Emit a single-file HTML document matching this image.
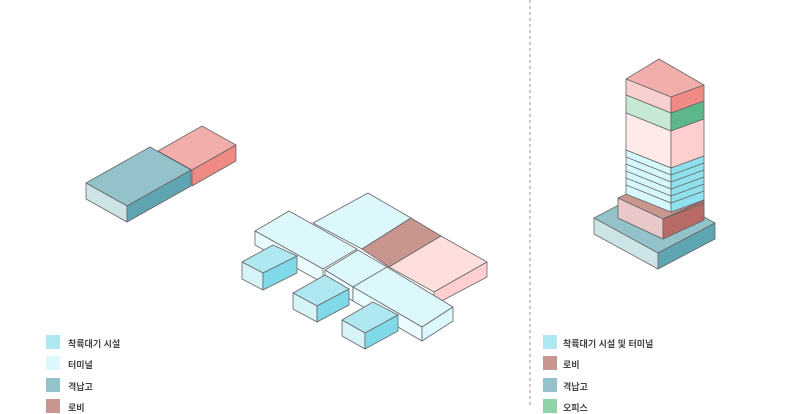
<!DOCTYPE html>
<html><head><meta charset="utf-8"><style>
body{margin:0;background:#fff;width:800px;height:408px;overflow:hidden;font-family:"Liberation Sans","Noto Sans CJK KR",sans-serif}
svg{position:absolute;left:0;top:0}
.lg{position:absolute;font-size:9px;font-weight:bold;color:#444}
.sw{position:absolute;width:14px;height:14px}
</style></head><body>
<svg width="800" height="408" stroke="#666" stroke-width="0.8" stroke-linejoin="round">
<line x1="530" y1="0" x2="530" y2="408" stroke="#999" stroke-dasharray="3,3" stroke-width="1"/>
<!-- left block -->
<polygon points="202,126 236,145 192,170 158,151" fill="#f2aeab"/>
<polygon points="192,170 236,145 236,161 192,186" fill="#f08a84"/>
<polygon points="150,147 191,170 127,206 86,183" fill="#94c2ca"/>
<polygon points="86,183 127,206 127,222 86,199" fill="#cde4e7"/>
<polygon points="127,206 191,170 191,186 127,222" fill="#5fa4b1"/>
<!-- middle -->
<polygon points="368,193 411,218 362,249 313,223" fill="#dcf8fc"/>
<polygon points="411,218 441,236 389,267 362,249" fill="#c8968f"/>
<polygon points="441,236 487,262 434,292 389,267" fill="#ffdede"/>
<polygon points="434,292 487,262 487,277 434,305" fill="#ffcfcf"/>
<polygon points="289,211 357,249 323,269 255,231" fill="#dcf8fc"/>
<polygon points="255,231 323,269 323,283 255,245" fill="#eafcfe"/>
<polygon points="358,250 387,267 353,287 325,270" fill="#dcf8fc"/>
<polygon points="325,270 353,287 353,301 325,284" fill="#eafcfe"/>
<polygon points="387,267 453,307 422,327 353,287" fill="#dcf8fc"/>
<polygon points="353,287 422,327 422,341 353,301" fill="#eafcfe"/>
<polygon points="422,327 453,307 453,321 422,341" fill="#dcf8fc"/>
<polygon points="242,262 273,245 297,256 263,273" fill="#b0e8f2"/>
<polygon points="242,262 263,273 263,290 242,279" fill="#d6f3f8"/>
<polygon points="263,273 297,256 297,273 263,290" fill="#80d9e8"/>
<polygon points="293,293 325,275 349,289 317,306" fill="#b0e8f2"/>
<polygon points="293,293 317,306 317,322 293,309" fill="#d6f3f8"/>
<polygon points="317,306 349,289 349,305 317,322" fill="#80d9e8"/>
<polygon points="342,320 373,302 398,315 365,333" fill="#b0e8f2"/>
<polygon points="342,320 365,333 365,349 342,336" fill="#d6f3f8"/>
<polygon points="365,333 398,315 398,331 365,349" fill="#80d9e8"/>
<!-- tower -->
<polygon points="594,218 651,188 715,223 658,253" fill="#94c2ca"/>
<polygon points="594,218 658,253 658,269 594,234" fill="#cde4e7"/>
<polygon points="658,253 715,223 715,239 658,269" fill="#5fa4b1"/>
<polygon points="618,198 659,179 704,200 663,219" fill="#c8968f"/>
<polygon points="618,198 663,219 663,239 618,218" fill="#e8c8c8"/>
<polygon points="663,219 704,200 704,220 663,239" fill="#b86a66"/>
<polygon points="659,59 704,85 671,97 626,79" fill="#f2aeab"/>
<polygon points="626,79 671,97 671,113 626,95" fill="#f9cfcf"/>
<polygon points="671,97 704,85 704,101 671,113" fill="#f08a84"/>
<polygon points="626,95 671,113 671,131 626,113" fill="#c6e8d4"/>
<polygon points="671,113 704,101 704,119 671,131" fill="#5cb88a"/>
<polygon points="626,113 671,131 671,168 626,150" fill="#ffeaea"/>
<polygon points="671,131 704,119 704,156 671,168" fill="#ffcfcf"/>
<polygon points="626,150 671,168 671,212 626,194" fill="#d6f7fc"/>
<polygon points="671,168 704,156 704,200 671,212" fill="#8ee0ec"/>
<g fill="none">
<polyline points="626,157 671,175 704,163"/><polyline points="626,164 671,182 704,170"/>
<polyline points="626,171 671,189 704,177"/><polyline points="626,178 671,196 704,184"/>
<polyline points="626,185 671,203 704,191"/>
</g>
<polygon points="618,198 663,219 663,239 618,218" fill="#e8c8c8"/>
<polygon points="663,219 704,203 704,220 663,239" fill="#b86a66"/>
</svg>
<div class="sw" style="left:46px;top:335px;background:#aee6f2"></div><div class="lg" style="left:68px;top:337px">착륙대기 시설</div>
<div class="sw" style="left:46px;top:356px;background:#dcf8fc"></div><div class="lg" style="left:68px;top:358px">터미널</div>
<div class="sw" style="left:46px;top:378px;background:#94c2ca"></div><div class="lg" style="left:68px;top:380px">격납고</div>
<div class="sw" style="left:46px;top:399px;background:#c8968f"></div><div class="lg" style="left:68px;top:401px">로비</div>
<div class="sw" style="left:543px;top:335px;background:#aee6f2"></div><div class="lg" style="left:563px;top:337px">착륙대기 시설 및 터미널</div>
<div class="sw" style="left:543px;top:356px;background:#c8968f"></div><div class="lg" style="left:563px;top:358px">로비</div>
<div class="sw" style="left:543px;top:378px;background:#94c2ca"></div><div class="lg" style="left:563px;top:380px">격납고</div>
<div class="sw" style="left:543px;top:399px;background:#8fd4a8"></div><div class="lg" style="left:563px;top:401px">오피스</div>
</body></html>
